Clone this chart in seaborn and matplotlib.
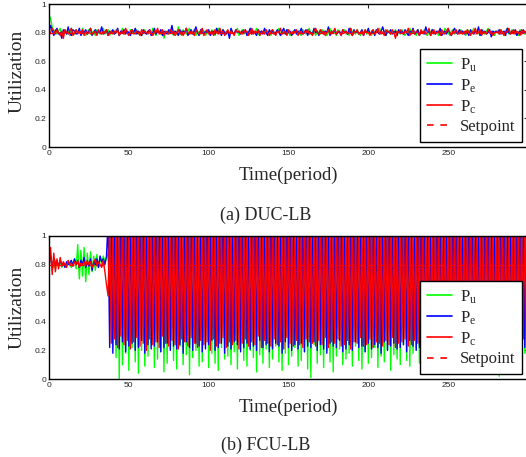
import numpy as np
import pandas as pd
import matplotlib
matplotlib.use("Agg")
import matplotlib.pyplot as plt
from matplotlib.lines import Line2D
import seaborn as sns

# ---- (a) DUC-LB, utilization in hundredths, periods 0..299 ----
pu_a = [92, 90, 84, 80, 82, 79, 81, 83, 78, 80, 82, 79, 81, 78, 83, 80, 79, 82, 80, 81,
        79, 83, 80, 78, 81, 82, 79, 80, 81, 78, 82, 80, 79, 81, 83, 79, 80, 82, 78, 81,
        80, 79, 82, 81, 78, 80, 83, 79, 81, 80, 78, 82, 80, 79, 81, 82, 79, 80, 78, 81,
        82, 79, 80, 81, 79, 83, 80, 78, 81, 80, 79, 82, 76, 80, 81, 79, 82, 80, 78, 81,
        79, 84, 80, 78, 82, 80, 79, 81, 83, 79, 80, 82, 78, 81, 80, 79, 82, 81, 78, 80,
        81, 79, 82, 80, 78, 81, 83, 79, 80, 82, 79, 81, 80, 78, 82, 80, 79, 81, 83, 78,
        80, 82, 79, 81, 78, 80, 82, 79, 81, 80, 83, 79, 78, 81, 80, 82, 79, 80, 81, 78,
        82, 80, 79, 81, 83, 78, 80, 81, 79, 82, 80, 78, 81, 79, 82, 80, 81, 79, 78, 82,
        80, 79, 81, 83, 79, 80, 82, 78, 81, 80, 79, 82, 80, 81, 78, 80, 83, 79, 81, 80,
        78, 82, 80, 79, 81, 82, 79, 80, 78, 83, 80, 81, 79, 82, 80, 78, 81, 80, 82, 79,
        81, 80, 78, 82, 79, 81, 80, 83, 79, 80, 81, 78, 82, 80, 79, 81, 80, 82, 78, 81,
        79, 82, 80, 78, 81, 80, 83, 79, 81, 80, 78, 82, 79, 81, 80, 82, 79, 78, 81, 80,
        82, 79, 81, 80, 78, 82, 80, 79, 83, 81, 80, 78, 81, 82, 79, 80, 81, 79, 82, 80,
        80, 78, 82, 81, 79, 80, 83, 79, 81, 80, 78, 82, 80, 79, 81, 83, 80, 79, 81, 78,
        81, 80, 79, 82, 80, 78, 81, 83, 79, 80, 82, 79, 81, 80, 78, 82, 80, 81, 79, 80]
pe_a = [80, 85, 82, 78, 81, 83, 79, 80, 76, 82, 81, 79, 84, 80, 78, 82, 81, 79, 80, 83,
        78, 81, 80, 82, 79, 81, 83, 78, 80, 82, 79, 81, 80, 84, 79, 80, 82, 78, 81, 80,
        82, 79, 80, 83, 78, 81, 80, 82, 79, 81, 80, 78, 82, 80, 83, 79, 81, 80, 78, 82,
        80, 79, 81, 82, 78, 80, 83, 79, 81, 80, 82, 78, 81, 80, 79, 82, 80, 85, 79, 81,
        80, 78, 82, 79, 81, 80, 83, 78, 80, 82, 79, 81, 84, 80, 78, 82, 80, 79, 81, 80,
        82, 78, 80, 81, 79, 83, 80, 81, 78, 82, 80, 79, 81, 76, 83, 80, 79, 82, 80, 81,
        79, 81, 80, 82, 78, 80, 83, 79, 81, 80, 78, 82, 80, 81, 79, 83, 80, 78, 82, 80,
        81, 79, 80, 82, 80, 78, 81, 83, 79, 82, 80, 81, 78, 80, 82, 79, 81, 80, 83, 79,
        80, 82, 78, 81, 80, 79, 83, 80, 81, 78, 82, 80, 79, 81, 80, 84, 78, 81, 80, 82,
        79, 80, 81, 78, 82, 80, 81, 79, 83, 80, 78, 82, 80, 81, 79, 80, 82, 78, 81, 80,
        83, 79, 80, 81, 78, 82, 80, 79, 81, 84, 80, 78, 81, 80, 82, 79, 80, 81, 78, 82,
        80, 81, 79, 82, 80, 78, 81, 80, 83, 79, 80, 82, 78, 81, 80, 79, 84, 80, 81, 78,
        82, 80, 79, 81, 80, 83, 78, 80, 81, 79, 82, 80, 78, 81, 83, 80, 79, 82, 80, 81,
        79, 81, 80, 78, 82, 80, 79, 81, 80, 84, 78, 82, 80, 81, 79, 80, 82, 77, 81, 80,
        81, 80, 82, 79, 80, 81, 78, 83, 80, 79, 81, 80, 82, 78, 80, 81, 79, 82, 80, 81]
pc_a = [78, 80, 83, 81, 79, 82, 80, 78, 81, 76, 82, 80, 79, 81, 83, 78, 80, 82, 79, 81,
        80, 82, 78, 81, 79, 80, 83, 79, 80, 81, 78, 82, 80, 79, 81, 80, 82, 78, 80, 81,
        79, 81, 80, 82, 78, 80, 81, 79, 83, 80, 78, 81, 82, 80, 79, 81, 80, 78, 82, 80,
        81, 80, 79, 82, 80, 78, 81, 80, 83, 79, 80, 82, 78, 81, 80, 79, 82, 80, 81, 78,
        80, 82, 79, 81, 78, 80, 83, 80, 79, 81, 80, 78, 82, 80, 79, 81, 83, 78, 80, 82,
        79, 80, 81, 78, 82, 80, 79, 83, 80, 81, 78, 80, 82, 79, 81, 80, 78, 82, 80, 81,
        80, 79, 82, 80, 81, 78, 80, 83, 79, 81, 80, 82, 78, 80, 81, 79, 82, 80, 78, 81,
        82, 80, 78, 81, 80, 83, 79, 80, 81, 78, 82, 80, 79, 81, 80, 82, 78, 81, 80, 79,
        81, 80, 82, 79, 80, 78, 81, 83, 80, 79, 82, 80, 81, 78, 80, 82, 79, 81, 80, 83,
        79, 81, 80, 78, 82, 80, 81, 79, 80, 83, 78, 81, 80, 82, 79, 80, 81, 78, 82, 80,
        80, 78, 81, 82, 79, 80, 83, 79, 81, 80, 78, 82, 80, 81, 79, 82, 80, 76, 81, 80,
        82, 80, 79, 81, 80, 83, 78, 80, 82, 79, 81, 80, 78, 82, 80, 81, 79, 80, 83, 78,
        80, 82, 79, 80, 81, 78, 82, 80, 79, 81, 83, 80, 78, 81, 80, 82, 79, 80, 81, 79,
        81, 79, 82, 80, 78, 81, 80, 83, 79, 80, 82, 78, 81, 80, 79, 82, 80, 81, 78, 80,
        80, 81, 79, 82, 80, 78, 81, 80, 83, 79, 80, 82, 79, 81, 80, 78, 82, 80, 81, 79]

# ---- (b) FCU-LB: periods 0..37 before oscillation sets in ----
pu_b_start = [92, 84, 80, 78, 83, 80, 79, 82, 78, 81, 80, 79, 82, 80, 78, 81, 84, 77, 94, 70,
              90, 72, 92, 68, 88, 73, 89, 75, 86, 76, 87, 78, 85, 80, 86, 82, 84, 88]
pe_b_start = [83, 86, 78, 84, 80, 82, 79, 83, 80, 81, 78, 82, 80, 81, 83, 79, 84, 80, 82, 78,
              83, 80, 85, 78, 82, 79, 84, 76, 82, 80, 84, 78, 86, 82, 84, 80, 86, 110]
pc_b_start = [76, 92, 73, 88, 75, 84, 77, 85, 79, 82, 80, 78, 83, 80, 81, 79, 82, 80, 83, 78,
              81, 80, 82, 79, 83, 80, 82, 78, 81, 84, 79, 82, 80, 78, 83, 75, 66, 58]

# periods 38..299: peaks (off the top of the axis) and troughs, one pair per two periods
pc_b_peak = [112, 108, 115, 110, 118, 105, 113, 109, 116, 111, 107, 114, 110, 117, 106, 112, 109, 115, 111, 108,
             113, 110, 116, 107, 112, 109, 118, 111, 106, 114, 110, 113, 108, 115, 112, 107, 111, 116, 109, 113,
             110, 106, 114, 112, 108, 117, 111, 109, 113, 107, 115, 110, 112, 108, 116, 111, 106, 113, 109, 114,
             111, 107, 115, 110, 112, 108, 117, 109, 113, 111, 106, 114, 110, 112, 108, 115, 111, 107, 113, 109,
             116, 110, 112, 108, 114, 111, 107, 115, 109, 113, 110, 117, 108, 112, 111, 106, 114, 109, 113, 110,
             115, 108, 112, 111, 107, 116, 110, 113, 109, 114, 108, 112, 110, 115, 107, 111, 113, 109, 116, 110,
             112, 108, 114, 111, 107, 113, 110, 115, 109, 112, 111]
pc_b_trough = [25, 28, 22, 30, 24, 27, 21, 26, 29, 23, 25, 20, 28, 24, 26, 22, 30, 25, 23, 27,
               24, 21, 28, 26, 23, 29, 25, 22, 27, 24, 26, 20, 28, 23, 25, 29, 22, 26, 24, 27,
               21, 25, 28, 23, 26, 24, 30, 22, 27, 25, 23, 28, 24, 26, 21, 29, 25, 23, 27, 24,
               22, 28, 26, 25, 23, 27, 24, 29, 22, 26, 25, 28, 23, 24, 27, 21, 26, 25, 29, 23,
               24, 28, 22, 26, 25, 23, 27, 24, 29, 22, 25, 26, 28, 23, 24, 27, 25, 22, 26, 29,
               23, 25, 24, 28, 22, 26, 27, 23, 25, 24, 29, 22, 26, 25, 28, 23, 27, 24, 25, 26,
               22, 28, 24, 25, 23, 27, 26, 24, 25, 28, 23]
pe_b_trough = [22, 18, 24, 21, 26, 19, 23, 25, 20, 22, 27, 18, 24, 21, 23, 26, 19, 22, 25, 20,
               23, 21, 24, 18, 26, 22, 20, 25, 23, 19, 21, 24, 27, 20, 22, 25, 18, 23, 21, 26,
               24, 19, 22, 25, 21, 23, 20, 27, 22, 24, 19, 21, 25, 23, 18, 26, 22, 20, 24, 21,
               25, 19, 23, 22, 26, 20, 24, 21, 18, 25, 23, 22, 27, 19, 21, 24, 20, 26, 22, 23,
               19, 25, 21, 24, 22, 18, 26, 20, 23, 25, 21, 22, 24, 19, 27, 23, 20, 22, 25, 21,
               24, 18, 23, 22, 26, 20, 21, 25, 23, 19, 24, 22, 20, 26, 21, 23, 25, 19, 22, 24,
               20, 23, 21, 26, 22, 19, 24, 23, 21, 25, 22]
pe_b_peak = [108, 114, 110, 116, 107, 112, 109, 115, 111, 106, 113, 110, 117, 108, 112, 109, 114, 111, 107, 115,
             110, 113, 108, 116, 111, 106, 114, 109, 112, 110, 117, 107, 113, 111, 108, 115, 110, 112, 106, 114,
             109, 113, 111, 107, 116, 110, 112, 108, 115, 109, 113, 111, 106, 114, 110, 117, 108, 112, 109, 113,
             111, 107, 115, 110, 112, 108, 114, 109, 116, 111, 107, 113, 110, 112, 108, 115, 111, 106, 113, 109,
             114, 110, 112, 108, 116, 111, 107, 113, 109, 115, 110, 112, 108, 114, 111, 106, 117, 109, 113, 110,
             112, 108, 115, 111, 107, 113, 110, 116, 109, 112, 108, 114, 111, 107, 113, 110, 115, 109, 112, 108,
             114, 111, 107, 113, 110, 116, 109, 112, 108, 115, 111]
pu_b_trough = [55, 35, 15, 0, 10, 18, 6, 22, 12, 4, 20, 9, 16, 24, 8, 14, 19, 5, 11, 21,
               13, 7, 23, 10, 17, 3, 15, 20, 9, 12, 25, 8, 18, 11, 6, 22, 14, 16, 10, 19,
               7, 24, 13, 9, 20, 15, 5, 17, 11, 21, 8, 14, 23, 12, 6, 18, 10, 16, 22, 9,
               13, 19, 7, 1, 24, 11, 17, 8, 20, 12, 5, 16, 21, 10, 14, 18, 9, 23, 13, 7,
               19, 11, 15, 22, 8, 16, 12, 20, 6, 17, 14, 10, 24, 13, 9, 18, 21, 11, 15, 7,
               22, 12, 16, 8, 19, 13, 10, 23, 14, 17, 9, 20, 11, 15, 8, 18, 12, 22, 16, 10,
               19, 13, 2, 21, 14, 17, 11, 20, 15, 9, 18]
pu_b_peak = [104, 100, 106, 102, 98, 105, 101, 103, 99, 107, 102, 100, 105, 103, 98, 106, 101, 104, 100, 102,
             105, 99, 103, 101, 106, 100, 104, 102, 98, 105, 101, 103, 107, 100, 102, 104, 99, 106, 101, 103,
             100, 105, 102, 98, 104, 101, 106, 103, 99, 102, 105, 100, 104, 101, 107, 102, 98, 103, 100, 105,
             101, 104, 99, 106, 102, 100, 103, 105, 101, 98, 104, 102, 106, 100, 103, 101, 105, 99, 102, 104,
             100, 106, 101, 103, 98, 105, 102, 100, 104, 101, 107, 103, 99, 102, 105, 100, 104, 101, 106, 102,
             98, 103, 100, 105, 101, 104, 102, 99, 106, 100, 103, 101, 105, 102, 98, 104, 100, 106, 101, 103,
             102, 105, 99, 104, 100, 103, 101, 106, 102, 100, 104]

series_names = ["Pu", "Pe", "Pc"]
legend_labels = [r"$\mathrm{P_u}$", r"$\mathrm{P_e}$", r"$\mathrm{P_c}$", "Setpoint"]
colors = {"Pu": "#00ff00", "Pe": "#0000ff", "Pc": "#ff0000"}
setpoint = 0.8
captions = ["(a) DUC-LB", "(b) FCU-LB"]


def interleave(first, second):
    return list(np.ravel(np.column_stack([first, second])))


series_a = {"Pu": pu_a, "Pe": pe_a, "Pc": pc_a}
series_b = {
    "Pu": pu_b_start + interleave(pu_b_trough, pu_b_peak),
    "Pe": pe_b_start + interleave(pe_b_trough, pe_b_peak),
    "Pc": pc_b_start + interleave(pc_b_peak, pc_b_trough),
}


def to_long(series):
    frames = []
    for name in series_names:
        vals = np.array(series[name]) / 100.0
        frames.append(pd.DataFrame({"t": np.arange(len(vals)), "u": vals, "s": name}))
    return pd.concat(frames, ignore_index=True)


sns.set_style("white")
plt.rcParams["font.family"] = ["Liberation Serif", "DejaVu Serif"]
plt.rcParams["mathtext.fontset"] = "custom"
plt.rcParams["mathtext.rm"] = "Liberation Serif"
plt.rcParams["mathtext.it"] = "Liberation Serif:italic"

W, H = 526, 457
fig = plt.figure(figsize=(W / 100, H / 100), dpi=100)

# axes boxes in pixels: left, top, right, bottom
boxes = [(49, 4, 528, 147), (49, 236, 528, 379)]
ylabel_y = [0.53, 0.5]
caption_y = [215, 445]

for i, (series, box) in enumerate(zip([series_a, series_b], boxes)):
    l, t, r, b = box
    ax = fig.add_axes([l / W, 1 - b / H, (r - l) / W, (b - t) / H])
    df = to_long(series)
    sns.lineplot(data=df, x="t", y="u", hue="s", hue_order=series_names, palette=colors,
                 estimator=None, sort=False, linewidth=1.0, legend=False, ax=ax)
    ax.axhline(setpoint, color="#ff0000", linestyle=(0, (4, 4)), linewidth=0.9)
    ax.set_xlim(0, 300)
    ax.set_ylim(0, 1)
    ax.set_xticks([0, 50, 100, 150, 200, 250])
    ax.set_yticks([0, 0.2, 0.4, 0.6, 0.8, 1.0])
    ax.set_yticklabels(["0", "0.2", "0.4", "0.6", "0.8", "1"])
    ax.tick_params(direction="in", top=True, right=True, length=3, width=0.8,
                   labelsize=6, pad=2)
    for lab in ax.get_xticklabels() + ax.get_yticklabels():
        lab.set_fontfamily("Liberation Sans")
    for sp in ax.spines.values():
        sp.set_linewidth(1.0)
        sp.set_color("black")
    ax.set_xlabel("Time(period)", fontsize=13.5)
    ax.xaxis.set_label_coords(0.499, -0.14)
    ax.set_ylabel("Utilization", fontsize=14, va="center")
    ax.yaxis.set_label_coords(-0.066, ylabel_y[i])

    handles = [Line2D([], [], color=colors[n], lw=1.2) for n in series_names]
    handles.append(Line2D([], [], color="#ff0000", lw=1.2, linestyle=(0, (4, 4))))
    leg = ax.legend(handles, legend_labels, loc="lower right",
                    bbox_to_anchor=(522 / W, 1 - (b - 5) / H), bbox_transform=fig.transFigure,
                    fontsize=12, frameon=True, fancybox=False, framealpha=1,
                    handlelength=1.5, handletextpad=0.5, labelspacing=0.22,
                    borderpad=0.4, borderaxespad=0)
    leg.get_frame().set_edgecolor("black")
    leg.get_frame().set_facecolor("white")
    leg.get_frame().set_linewidth(1.0)

    fig.text(266 / W, 1 - caption_y[i] / H, captions[i], ha="center", va="center", fontsize=13)

fig.savefig("out.png", dpi=100)
